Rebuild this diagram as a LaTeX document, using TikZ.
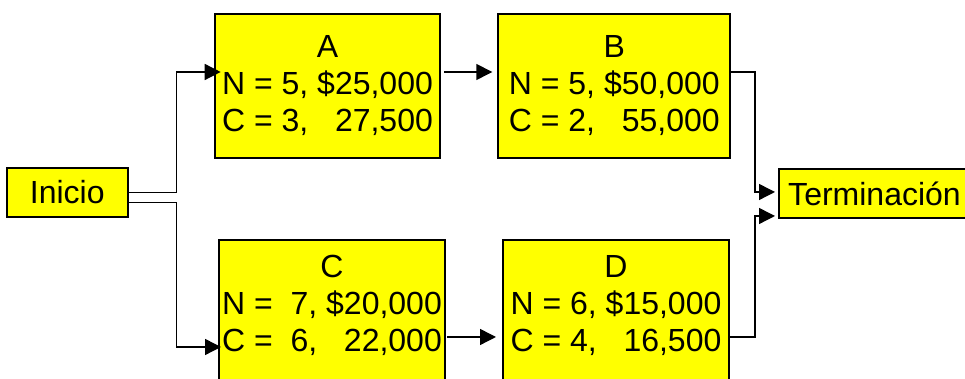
\documentclass[tikz,border=0pt]{standalone}
\usepackage{fontspec}
\setmainfont{Liberation Sans}
\usepackage{xcolor}
\usepackage{tikz}
\usetikzlibrary{arrows.meta, positioning, calc}
\definecolor{boxyellow}{RGB}{255, 255, 0}

\begin{document}
\begin{tikzpicture}[
    x=0.5pt, y=0.5pt,
    box/.style={rectangle, draw=black, fill=boxyellow, line width=1pt, align=center, inner sep=0pt, font=\fontsize{16}{18.5}\selectfont},
    task/.style={box, minimum width=113pt, minimum height=72pt},
    lower/.style={task, text depth=8.5pt},
    ends/.style={box, minimum height=24.5pt, text height=11.5pt, text depth=0pt},
    arrow/.style={line width=0.7pt, -{Triangle[length=8pt, width=8pt]}}
]
    \useasboundingbox (0,0) rectangle (965,379);
    \clip (0,0) rectangle (965,379);

    % Nodes
    \node[ends, minimum width=60.25pt] (inicio) at (67.25,186.5) {Inicio};
    \node[task, minimum width=112.8pt] (A) at (327.5,293) {A\\N = 5, \$25,000\\C = 3, \phantom{\$}27,500};
    \node[task, minimum width=116pt, right=28pt of A] (B) {B\\N = 5, \$50,000\\C = 2, \phantom{\$}55,000};
    \node[lower] (C) at (332,67) {C\\N = ~7, \$20,000\\C = ~6, \phantom{\$}22,000};
    \node[lower, right=28pt of C] (D) {D\\N = 6, \$15,000\\C = 4, \phantom{\$}16,500};
    \node[ends, minimum width=95.5pt] (term) at (874.5,185) {Terminación};

    % Paths
    \draw[arrow] (inicio.east) -- ++(48,0) |- ([xshift=3.5pt, yshift=7pt]A.west);
    \draw[arrow] ([yshift=-5pt]inicio.east) -- ++(48,0) |- ([xshift=1.5pt, yshift=-17.5pt]C.west);
    \draw[arrow] ([xshift=1.5pt, yshift=7pt]A.east) -- ([xshift=-2.5pt, yshift=7pt]B.west);
    \draw[arrow] ([xshift=0.5pt, yshift=-12.5pt]C.east) -- ([xshift=-3pt, yshift=-12.5pt]D.west);
    \draw[arrow] ([yshift=7pt]B.east) -- ++(23.5,0) |- ([xshift=-1.5pt, yshift=1pt]term.west);
    \draw[arrow] ([yshift=-12.5pt]D.east) -- ++(25,0) |- ([xshift=-1.5pt, yshift=-11pt]term.west);
\end{tikzpicture}
\end{document}
